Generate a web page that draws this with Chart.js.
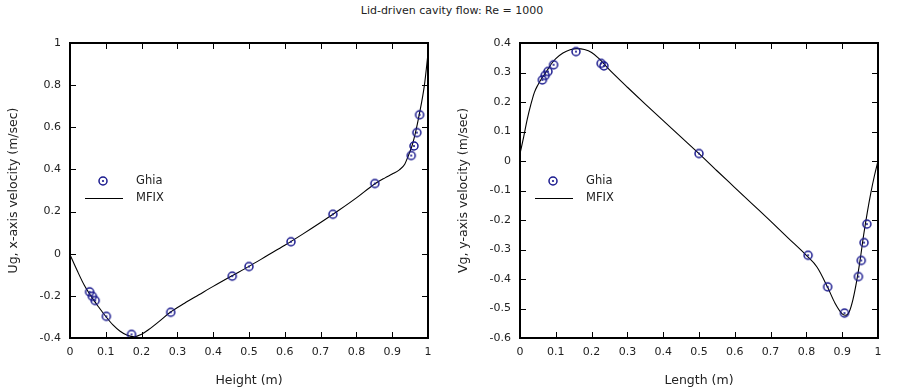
<!DOCTYPE html>
<html lang="en">
<head>
    <meta charset="UTF-8">
    <title>Lid-driven cavity flow: Re = 1000</title>
    <style>
        body {
            margin: 0;
            padding: 0;
            width: 900px;
            height: 392px;
            background: #fff;
            font-family: "DejaVu Sans", sans-serif;
            position: relative;
            overflow: hidden;
        }

        #title {
            position: absolute;
            top: 4px;
            left: 0;
            width: 904px;
            text-align: center;
            font-size: 11px;
            color: #222;
        }

        .panel {
            position: absolute;
            top: 0;
            width: 450px;
            height: 392px;
        }
    </style>
    <script src="https://cdn.jsdelivr.net/npm/chart.js"></script>
</head>
<body>
    <div id="title">Lid-driven cavity flow: Re = 1000</div>
    <div class="panel" style="left:0"><canvas id="uChart" width="450" height="392"></canvas></div>
    <div class="panel" style="left:450px"><canvas id="vChart" width="450" height="392"></canvas></div>
    <script>
        // Ghia et al. reference points, u along the vertical centreline
        var ghiaUHeight = [0.0547, 0.0625, 0.0703, 0.1016, 0.1719, 0.2813, 0.4531, 0.5000, 0.6172, 0.7344, 0.8516, 0.9531, 0.9609, 0.9688, 0.9766];
        var ghiaU = [-0.18109, -0.20196, -0.22220, -0.29730, -0.38289, -0.27805, -0.10648, -0.06080, 0.05702, 0.18719, 0.33304, 0.46604, 0.51117, 0.57492, 0.65928];

        // MFIX profile, u along the vertical centreline
        var mfixUHeight = [0, 0.02, 0.04, 0.06, 0.08, 0.10, 0.12, 0.14, 0.16, 0.18, 0.20, 0.22, 0.25, 0.28, 0.32, 0.36, 0.40, 0.45, 0.50, 0.55, 0.60, 0.65, 0.70, 0.75, 0.80, 0.85, 0.88, 0.90, 0.92, 0.935, 0.945, 0.955, 0.965, 0.975, 0.99, 1.0];
        var mfixU = [-0.005, -0.08, -0.15, -0.205, -0.253, -0.298, -0.338, -0.368, -0.387, -0.394, -0.382, -0.36, -0.32, -0.278, -0.235, -0.195, -0.155, -0.107, -0.06, -0.01, 0.04, 0.093, 0.148, 0.205, 0.265, 0.33, 0.36, 0.378, 0.398, 0.425, 0.465, 0.51, 0.575, 0.655, 0.8, 0.95];

        // Ghia et al. reference points, v along the horizontal centreline
        var ghiaVLength = [0.0625, 0.0703, 0.0781, 0.0938, 0.1563, 0.2266, 0.2344, 0.5000, 0.8047, 0.8594, 0.9063, 0.9453, 0.9531, 0.9609, 0.9688];
        var ghiaV = [0.27485, 0.29012, 0.30353, 0.32627, 0.37095, 0.33075, 0.32235, 0.02526, -0.31966, -0.42665, -0.51550, -0.39188, -0.33714, -0.27669, -0.21388];

        // MFIX profile, v along the horizontal centreline
        var mfixVLength = [0, 0.01, 0.02, 0.03, 0.04, 0.05, 0.06, 0.07, 0.08, 0.09, 0.10, 0.12, 0.14, 0.16, 0.18, 0.20, 0.22, 0.24, 0.27, 0.30, 0.35, 0.40, 0.45, 0.50, 0.55, 0.60, 0.65, 0.70, 0.75, 0.80, 0.83, 0.86, 0.88, 0.90, 0.91, 0.92, 0.93, 0.94, 0.95, 0.96, 0.97, 0.98, 0.99, 1.0];
        var mfixV = [0.025, 0.08, 0.14, 0.19, 0.232, 0.258, 0.279, 0.296, 0.315, 0.333, 0.347, 0.366, 0.377, 0.381, 0.378, 0.368, 0.348, 0.322, 0.285, 0.25, 0.193, 0.137, 0.081, 0.025, -0.033, -0.09, -0.147, -0.204, -0.262, -0.32, -0.36, -0.43, -0.482, -0.518, -0.523, -0.51, -0.47, -0.41, -0.336, -0.25, -0.175, -0.108, -0.05, 0.0];

        var markerColor = '#1a1a8e';
        var fontFamily = '"DejaVu Sans", sans-serif';

        // circle with a dot in the middle
        function makeMarker() {
            var c = document.createElement('canvas');
            c.width = 12;
            c.height = 12;
            var g = c.getContext('2d');
            g.strokeStyle = markerColor;
            g.fillStyle = markerColor;
            g.lineWidth = 1.5;
            g.beginPath();
            g.arc(6, 6, 4, 0, Math.PI * 2);
            g.stroke();
            g.beginPath();
            g.arc(6, 6, 1.1, 0, Math.PI * 2);
            g.fill();
            return c;
        }
        var marker = makeMarker();

        function pairs(xs, ys) {
            return xs.map(function (x, i) { return { x: x, y: ys[i] }; });
        }

        // frame + inward ticks on all four sides, and the in-plot legend
        var framePlugin = {
            id: 'frame',
            afterDraw: function (chart) {
                var ctx = chart.ctx;
                var a = chart.chartArea;
                var xs = chart.scales.x, ys = chart.scales.y;
                var tl = 6;
                ctx.save();
                ctx.strokeStyle = '#000';
                ctx.lineWidth = 1;
                ctx.beginPath();
                xs.ticks.forEach(function (t) {
                    var px = Math.round(xs.getPixelForValue(t.value)) + 0.5;
                    ctx.moveTo(px, a.bottom); ctx.lineTo(px, a.bottom - tl);
                    ctx.moveTo(px, a.top); ctx.lineTo(px, a.top + tl);
                });
                ys.ticks.forEach(function (t) {
                    var py = Math.round(ys.getPixelForValue(t.value)) + 0.5;
                    ctx.moveTo(a.left, py); ctx.lineTo(a.left + tl, py);
                    ctx.moveTo(a.right, py); ctx.lineTo(a.right - tl, py);
                });
                ctx.stroke();
                ctx.lineWidth = 2;
                ctx.strokeRect(a.left, a.top, a.right - a.left, a.bottom - a.top);

                // legend
                var ds = chart.data.datasets;
                ctx.font = '11.5px ' + fontFamily;
                ctx.fillStyle = '#222';
                ctx.textBaseline = 'middle';
                ctx.drawImage(marker, a.left + 27, a.top + 132);
                ctx.fillText(ds[0].label, a.left + 66, a.top + 138);
                ctx.lineWidth = 1;
                ctx.beginPath();
                ctx.moveTo(a.left + 15, a.top + 155.5);
                ctx.lineTo(a.left + 53, a.top + 155.5);
                ctx.stroke();
                ctx.fillText(ds[1].label, a.left + 66, a.top + 155);
                ctx.restore();
            }
        };

        function fmt(v) {
            return String(Number(v.toFixed(2)));
        }

        function renderProfile(chartId, ghia, mfix, xTitle, yTitle, yMin, yMax, yStep) {
            var ctx = document.getElementById(chartId).getContext('2d');
            new Chart(ctx, {
                type: 'scatter',
                data: {
                    datasets: [{
                        label: 'Ghia',
                        data: ghia,
                        pointStyle: marker,
                        pointRadius: 6,
                        pointHoverRadius: 6,
                        showLine: false,
                        order: 1
                    }, {
                        label: 'MFIX',
                        data: mfix,
                        showLine: true,
                        borderColor: '#000',
                        borderWidth: 1.1,
                        pointRadius: 0,
                        cubicInterpolationMode: 'monotone',
                        fill: false,
                        order: 2
                    }]
                },
                options: {
                    responsive: false,
                    animation: false,
                    layout: { padding: { top: 43, right: 22, left: 0, bottom: 0 } },
                    plugins: {
                        legend: { display: false },
                        tooltip: { enabled: false }
                    },
                    scales: {
                        x: {
                            type: 'linear',
                            min: 0,
                            max: 1,
                            afterFit: function (s) { s.height = 54; },
                            grid: { display: false, drawTicks: false },
                            border: { display: false },
                            ticks: {
                                stepSize: 0.1,
                                padding: 8,
                                color: '#222',
                                font: { family: fontFamily, size: 11 },
                                maxRotation: 0,
                                callback: fmt
                            },
                            title: {
                                display: true,
                                text: xTitle,
                                color: '#222',
                                font: { family: fontFamily, size: 12.5 },
                                padding: { top: 0, bottom: 4 }
                            }
                        },
                        y: {
                            min: yMin,
                            max: yMax,
                            afterFit: function (s) { s.width = 70; },
                            grid: { display: false, drawTicks: false },
                            border: { display: false },
                            ticks: {
                                stepSize: yStep,
                                padding: 9,
                                color: '#222',
                                font: { family: fontFamily, size: 11 },
                                callback: fmt
                            },
                            title: {
                                display: true,
                                text: yTitle,
                                color: '#222',
                                font: { family: fontFamily, size: 12.5 },
                                padding: { top: 6, bottom: 0 }
                            }
                        }
                    }
                },
                plugins: [framePlugin]
            });
        }

        renderProfile('uChart', pairs(ghiaUHeight, ghiaU), pairs(mfixUHeight, mfixU),
            'Height (m)', 'Ug, x-axis velocity (m/sec)', -0.4, 1, 0.2);
        renderProfile('vChart', pairs(ghiaVLength, ghiaV), pairs(mfixVLength, mfixV),
            'Length (m)', 'Vg, y-axis velocity (m/sec)', -0.6, 0.4, 0.1);
    </script>
</body>
</html>
